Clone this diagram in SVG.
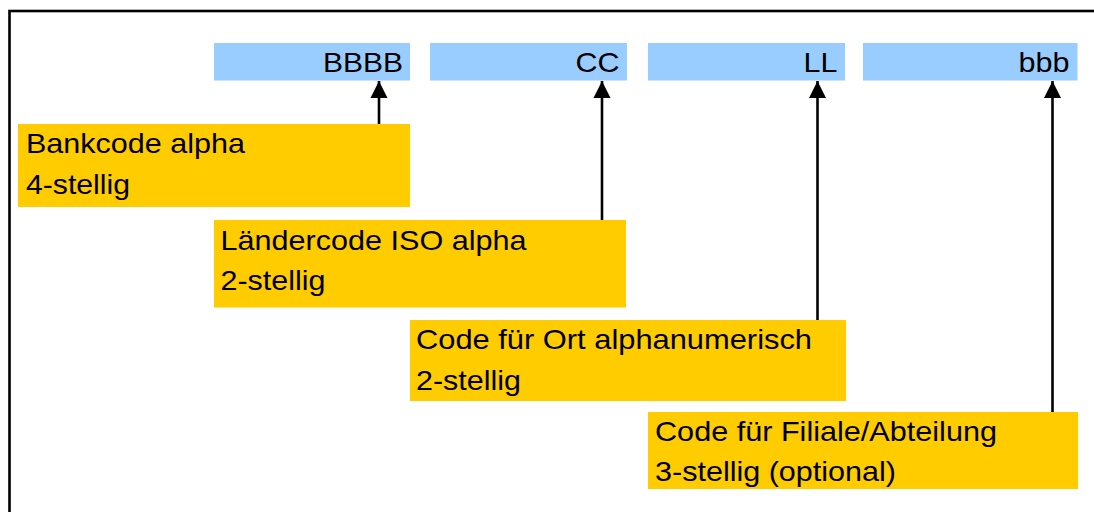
<svg xmlns="http://www.w3.org/2000/svg" width="1094" height="512" viewBox="0 0 1094 512">
  <style>
    .field { fill: #99CCFF; }
    .note { fill: #FFCC00; }
    .txt { font-family: "Liberation Sans", Arial, sans-serif; font-size: 28px; fill: #000; }
    .end { text-anchor: end; }
    .link { stroke: #000; stroke-width: 2.6; fill: none; marker-end: url(#head); }
  </style>
  <defs>
    <marker id="head" markerUnits="userSpaceOnUse" markerWidth="18" markerHeight="18" viewBox="0 0 18 18" refX="17" refY="9" orient="auto">
      <path d="M0,0.5 L17,9 L0,17.5 Z" fill="#000"/>
    </marker>
  </defs>

  <rect x="0" y="0" width="1094" height="512" fill="#fff"/>
  <!-- frame (right and bottom edges run past the canvas) -->
  <rect x="9.5" y="11" width="1200" height="600" fill="none" stroke="#000" stroke-width="2.6"/>

  <!-- BIC fields -->
  <g id="field-bank">
    <rect class="field" x="214" y="43" width="196" height="37.5"/>
    <text class="txt end" x="403" y="72" textLength="80" lengthAdjust="spacingAndGlyphs">BBBB</text>
  </g>
  <g id="field-country">
    <rect class="field" x="430" y="43" width="197" height="37.5"/>
    <text class="txt end" x="619.5" y="72" textLength="44" lengthAdjust="spacingAndGlyphs">CC</text>
  </g>
  <g id="field-location">
    <rect class="field" x="648" y="43" width="197" height="37.5"/>
    <text class="txt end" x="837.5" y="72" textLength="34" lengthAdjust="spacingAndGlyphs">LL</text>
  </g>
  <g id="field-branch">
    <rect class="field" x="863" y="43" width="214.5" height="37.5"/>
    <text class="txt end" x="1069.5" y="72" textLength="51" lengthAdjust="spacingAndGlyphs">bbb</text>
  </g>

  <!-- descriptions -->
  <g id="desc-bank">
    <rect class="note" x="18" y="124" width="392" height="83"/>
    <text class="txt" x="26" y="153" textLength="219" lengthAdjust="spacingAndGlyphs">Bankcode alpha</text>
    <text class="txt" x="26" y="194" textLength="104" lengthAdjust="spacingAndGlyphs">4-stellig</text>
  </g>
  <g id="desc-country">
    <rect class="note" x="214" y="220" width="412" height="87.5"/>
    <text class="txt" x="220.5" y="250" textLength="306" lengthAdjust="spacingAndGlyphs">Ländercode ISO alpha</text>
    <text class="txt" x="220.5" y="290" textLength="105" lengthAdjust="spacingAndGlyphs">2-stellig</text>
  </g>
  <g id="desc-location">
    <rect class="note" x="410" y="320" width="436" height="81"/>
    <text class="txt" x="416" y="349" textLength="396" lengthAdjust="spacingAndGlyphs">Code für Ort alphanumerisch</text>
    <text class="txt" x="416" y="390" textLength="105" lengthAdjust="spacingAndGlyphs">2-stellig</text>
  </g>
  <g id="desc-branch">
    <rect class="note" x="648" y="412" width="430" height="77"/>
    <text class="txt" x="655" y="441" textLength="342" lengthAdjust="spacingAndGlyphs">Code für Filiale/Abteilung</text>
    <text class="txt" x="655" y="481" textLength="241" lengthAdjust="spacingAndGlyphs">3-stellig (optional)</text>
  </g>

  <!-- connectors -->
  <g id="connectors">
    <line class="link" x1="379" y1="124" x2="379" y2="81"/>
    <line class="link" x1="602" y1="220" x2="602" y2="81"/>
    <line class="link" x1="817.5" y1="320" x2="817.5" y2="81"/>
    <line class="link" x1="1052.5" y1="412" x2="1052.5" y2="81"/>
  </g>
</svg>
